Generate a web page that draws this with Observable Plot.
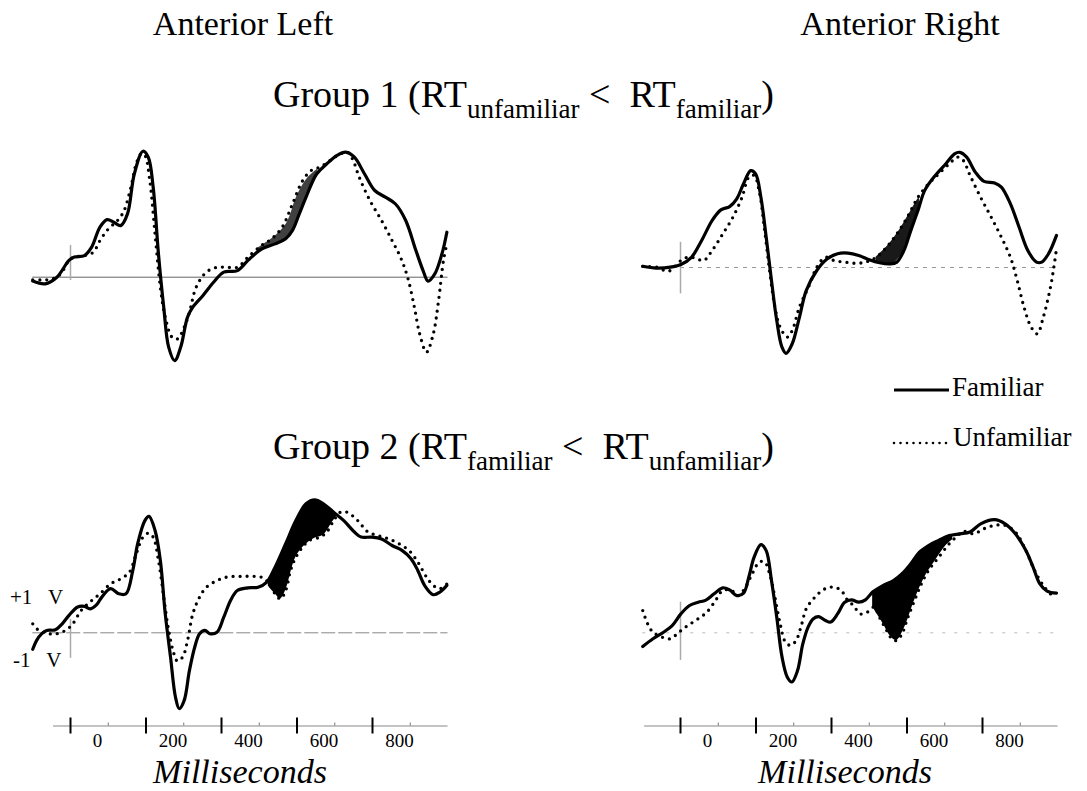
<!DOCTYPE html>
<html><head><meta charset="utf-8">
<script src="https://cdn.jsdelivr.net/npm/d3@7"></script>
<script src="https://cdn.jsdelivr.net/npm/@observablehq/plot@0.6"></script>
<style>
body{margin:0;background:#fff;}
#page{position:relative;width:1087px;height:791px;overflow:hidden;font-family:"Liberation Serif","Times New Roman",serif;color:#000;background:#fff;}
.panel{position:absolute;}
.t{position:absolute;white-space:pre;line-height:1;}
.c{transform:translateX(-50%);}
.sub{font-size:27px;vertical-align:-11px;}
</style></head><body><div id="page"></div>
<script>
// ---------- DATA (time in ms, amplitude in µV) ----------
const majorTicks = [0, 200, 400, 600, 800];
const minorTicks = [100, 300, 500, 700, 900];
const tickLabels = ["0", "200", "400", "600", "800"];

// Group 1, Anterior Left
const g1LeftFamiliar = [[-100,-0.13],[-67,-0.22],[-36,0],[-4,0.56],[10,0.67],[37,0.72],[56,1.0],[78,1.67],[97,1.92],[115,1.83],[133,1.72],[151,2.11],[169,3.44],[192,4.2],[206,4.0],[219,3.0],[233,0.78],[247,-1.0],[260,-2.33],[276,-2.78],[292,-2.33],[310,-1.33],[324,-1.0],[351,-0.61],[379,-0.17],[406,0.17],[442,0.22],[470,0.56],[506,0.94],[542,1.11],[570,1.28],[588,1.56],[606,2.11],[624,2.67],[652,3.44],[679,3.78],[706,4.06],[729,4.17],[752,4.0],[779,3.44],[806,2.89],[834,2.67],[861,2.44],[888,1.89],[915,0.89],[934,0.22],[947,-0.13],[965,0.11],[984,0.78],[997,1.5]];
const g1LeftUnfamiliar = [[-100,-0.09],[-76,-0.09],[-49,-0.06],[-26,0.11],[-4,0.56],[10,0.67],[37,0.72],[60,0.83],[78,1.22],[97,1.56],[115,1.78],[128,1.94],[142,2.22],[160,3.0],[174,3.78],[187,4.11],[197,4.06],[210,3.22],[224,1.44],[238,-0.33],[251,-1.33],[269,-2.0],[283,-2.06],[301,-1.67],[315,-1.17],[333,-0.33],[360,0.17],[388,0.33],[415,0.33],[442,0.33],[470,0.67],[506,1.06],[533,1.28],[561,1.67],[588,2.44],[615,3.22],[638,3.56],[661,3.67],[688,3.89],[715,4.11],[733,4.17],[747,3.94],[765,3.33],[793,2.56],[824,1.89],[852,1.22],[874,0.67],[893,0],[911,-1.0],[925,-1.89],[943,-2.5],[961,-1.89],[975,-0.78],[988,0.56],[997,1.11]];
const g1LeftShade = [[495,0.85,0.95],[509,0.95,1.07],[545,1.12,1.4],[573,1.3,1.8],[600,1.9,2.7],[628,2.75,3.3],[655,3.47,3.6]];

// Group 1, Anterior Right
const g1RightFamiliar = [[-100,0.04],[-64,-0.02],[-27,0.01],[1,0.1],[29,0.34],[56,0.9],[84,1.57],[107,1.92],[130,2.03],[149,2.29],[167,2.79],[186,3.23],[199,3.12],[213,2.34],[227,1.01],[241,-0.43],[255,-1.77],[269,-2.66],[280,-2.86],[296,-2.54],[315,-1.66],[333,-0.77],[361,-0.1],[389,0.29],[416,0.46],[444,0.48],[472,0.4],[500,0.26],[527,0.16],[555,0.12],[573,0.18],[592,0.57],[610,1.23],[629,1.9],[647,2.57],[675,3.07],[703,3.46],[726,3.79],[740,3.84],[758,3.68],[781,3.18],[804,2.87],[832,2.82],[850,2.68],[874,2.12],[897,1.34],[920,0.57],[943,0.18],[957,0.18],[975,0.46],[996,1.07]];
const g1RightUnfamiliar = [[-100,0.04],[-64,0.01],[-31,-0.12],[1,0.23],[19,0.34],[38,0.32],[61,0.23],[84,0.57],[112,1.12],[139,1.68],[163,2.34],[181,3.01],[195,3.07],[209,2.51],[223,1.23],[236,-0.1],[250,-1.32],[264,-1.99],[283,-2.32],[296,-2.1],[315,-1.32],[343,-0.54],[361,0.01],[384,0.34],[407,0.23],[435,0.18],[463,0.14],[490,0.18],[518,0.34],[546,0.68],[573,1.12],[601,1.68],[629,2.34],[657,2.79],[684,3.12],[712,3.46],[735,3.68],[749,3.57],[767,3.07],[795,2.34],[823,1.68],[850,1.01],[874,0.34],[892,-0.43],[910,-1.32],[929,-1.99],[945,-2.21],[961,-1.66],[980,-0.66],[989,0.01],[996,0.62]];
const g1RightShade = [[518,0.2,0.34],[546,0.13,0.68],[564,0.14,0.96],[583,0.38,1.3],[601,0.9,1.68],[620,1.57,2.1],[633,2.0,2.36]];

// Group 2, Anterior Left
const g2LeftFamiliar = [[-100,-0.55],[-90,-0.26],[-76,-0.03],[-63,0.08],[-40,0.1],[-22,0.3],[-4,0.58],[19,0.86],[37,0.88],[52,0.8],[70,0.95],[83,1.19],[106,1.47],[128,1.3],[147,1.3],[165,2.08],[178,2.97],[197,3.74],[208,3.88],[224,3.41],[238,2.41],[251,0.63],[265,-0.81],[278,-2.14],[288,-2.53],[301,-2.26],[315,-1.26],[329,-0.48],[342,-0.03],[356,0.08],[369,-0.03],[388,0.02],[406,0.52],[424,1.08],[442,1.41],[470,1.5],[497,1.52],[520,1.69],[542,2.19],[570,2.97],[597,3.74],[624,4.3],[647,4.43],[670,4.3],[697,4.02],[724,3.74],[752,3.36],[770,3.19],[797,3.19],[824,3.13],[852,2.91],[879,2.74],[902,2.47],[920,2.08],[938,1.58],[961,1.27],[979,1.36],[997,1.58]];
const g2LeftUnfamiliar = [[-100,0.3],[-86,0.1],[-58,-0.03],[-36,-0.03],[-13,0.08],[6,0.3],[28,0.74],[51,1.02],[78,1.3],[106,1.63],[133,1.8],[156,2.02],[174,2.63],[192,3.19],[206,3.32],[219,3.19],[233,2.41],[247,1.19],[260,0.08],[274,-0.7],[283,-0.94],[297,-0.81],[310,-0.26],[324,0.63],[342,1.19],[360,1.52],[388,1.74],[415,1.86],[451,1.88],[488,1.88],[511,1.83],[529,1.58],[542,1.3],[556,1.13],[570,1.41],[583,2.08],[597,2.52],[615,2.86],[633,3.08],[661,3.19],[679,3.36],[697,3.74],[715,4.02],[733,4.02],[761,3.74],[788,3.36],[815,3.24],[843,3.13],[870,2.97],[897,2.74],[920,2.36],[943,1.86],[961,1.58],[979,1.47],[997,1.63]];
const g2LeftShade = [[524,1.55,1.75],[542,1.3,2.19],[556,1.13,2.58],[570,1.41,2.97],[597,2.52,3.74],[624,2.95,4.3],[647,3.15,4.43],[670,3.25,4.3],[692,3.65,4.08],[706,3.9,3.97]];

// Group 2, Anterior Right
const g2RightFamiliar = [[-100,-0.46],[-73,-0.2],[-45,0.02],[-22,0.24],[1,0.63],[24,0.91],[47,1.02],[66,1.08],[89,1.3],[112,1.5],[130,1.43],[149,1.24],[167,1.32],[181,1.86],[195,2.52],[213,2.94],[227,2.74],[241,1.74],[255,0.52],[269,-0.81],[283,-1.48],[295,-1.64],[310,-1.26],[324,-0.37],[338,0.19],[352,0.47],[366,0.54],[384,0.41],[398,0.36],[416,0.63],[435,1.02],[453,1.1],[472,1.02],[490,1.1],[509,1.36],[537,1.58],[564,1.74],[587,1.97],[610,2.3],[633,2.69],[657,2.91],[684,3.08],[712,3.24],[740,3.3],[767,3.36],[795,3.63],[832,3.77],[860,3.63],[887,3.3],[915,2.74],[934,2.19],[952,1.63],[971,1.39],[996,1.32]];
const g2RightUnfamiliar = [[-100,0.74],[-87,0.3],[-73,0.02],[-50,-0.14],[-27,-0.2],[-4,0.02],[19,0.24],[47,0.47],[70,0.69],[93,1.08],[112,1.41],[135,1.41],[153,1.24],[172,1.52],[190,1.97],[209,2.36],[223,2.36],[236,1.97],[250,1.19],[264,0.3],[278,-0.31],[292,-0.42],[306,-0.26],[320,0.24],[333,0.8],[352,1.13],[370,1.36],[389,1.5],[407,1.52],[426,1.41],[440,1.13],[458,0.91],[477,0.63],[495,0.69],[513,0.86],[527,0.52],[546,0.08],[560,-0.2],[572,-0.26],[587,-0.03],[601,0.47],[620,1.08],[638,1.63],[657,2.08],[684,2.52],[712,2.97],[730,3.19],[749,3.38],[777,3.3],[804,3.47],[832,3.58],[860,3.58],[887,3.36],[915,2.74],[938,2.08],[961,1.58],[984,1.27],[996,1.3]];
const g2RightShade = [[509,0.86,1.36],[537,0.3,1.58],[555,-0.1,1.69],[572,-0.26,1.8],[592,0.13,2.03],[620,1.08,2.47],[647,1.85,2.82],[675,2.4,3.03],[703,2.9,3.19],[721,3.1,3.26]];

// stimulus-onset marker extents (µV) per panel
const g1LeftOnset = [-0.11, 1.06];
const g1RightOnset = [-0.88, 0.84];
const g2LeftOnset = [-0.85, 0.45];
const g2RightOnset = [-0.92, 1.02];

// ---------- DRAWING ----------
const PX_PER_UV = 30;
const SERIF = '"Liberation Serif","Times New Roman",serif';
const page = document.getElementById("page");

function drawPanel(cfg) {
  const {left, top, width, height, x0, x1, base, fam, unf, shade, shadeOpacity, onset, zero, axis} = cfg;
  const rows = arr => arr.map(([t, v]) => ({t, v}));
  const marks = [];
  marks.push(Plot.ruleY([{y: 0, a: zero.from, b: 1000}], {y: "y", x1: "a", x2: "b", stroke: zero.color, strokeWidth: 1, strokeDasharray: zero.dash}));
  marks.push(Plot.ruleX([{t: 0, lo: onset[0], hi: onset[1]}], {x: "t", y1: "lo", y2: "hi", stroke: "#aaa", strokeWidth: 1.5}));
  marks.push(Plot.areaY(shade.map(([t, a, b]) => ({t, a, b})), {x: "t", y1: "a", y2: "b", curve: "catmull-rom", fill: "#000", fillOpacity: shadeOpacity}));
  marks.push(Plot.line(rows(unf), {x: "t", y: "v", curve: "catmull-rom", stroke: "#000", strokeWidth: 3.3, strokeDasharray: "0 7", strokeLinecap: "round"}));
  marks.push(Plot.line(rows(fam), {x: "t", y: "v", curve: "catmull-rom", stroke: "#000", strokeWidth: 3.2}));
  let marginBottom = 0;
  if (axis) {
    marginBottom = height - axis.px;
    const level = (base - axis.px) / PX_PER_UV;
    marks.push(Plot.ruleY([{y: level, a: axis.from, b: 1000}], {y: "y", x1: "a", x2: "b", stroke: "#888", strokeWidth: 1.2}));
    marks.push(Plot.tickX(minorTicks, {x: d => d, insetTop: axis.px - 3, insetBottom: 0, stroke: "#777", strokeWidth: 1}));
    marks.push(Plot.tickX(majorTicks, {x: d => d, insetTop: axis.px - 8, insetBottom: -8, stroke: "#000", strokeWidth: 2}));
    marks.push(Plot.text(majorTicks, {x: d => d, text: (d, i) => tickLabels[i], frameAnchor: "bottom", dx: 27, dy: 21, fontSize: 19, fontFamily: SERIF, fill: "#000"}));
  }
  const svg = Plot.plot({
    width, height,
    marginTop: 0, marginLeft: 0, marginRight: 0, marginBottom,
    x: {domain: [-100, 1000], range: [x0, x1], axis: null},
    y: {domain: [-5, 5], range: [base + 5 * PX_PER_UV, base - 5 * PX_PER_UV], axis: null},
    style: {fontFamily: SERIF, background: "transparent", overflow: "visible"},
    marks
  });
  const holder = document.createElement("div");
  holder.className = "panel";
  holder.style.left = left + "px";
  holder.style.top = top + "px";
  holder.appendChild(svg);
  page.appendChild(holder);
}

drawPanel({left: 0, top: 120, width: 540, height: 260, x0: 32.25, x1: 447.5, base: 156.7,
  fam: g1LeftFamiliar, unf: g1LeftUnfamiliar, shade: g1LeftShade, shadeOpacity: 0.75, onset: g1LeftOnset,
  zero: {from: -100, color: "#666", dash: null}});
drawPanel({left: 540, top: 120, width: 547, height: 260, x0: 102.25, x1: 517.5, base: 147,
  fam: g1RightFamiliar, unf: g1RightUnfamiliar, shade: g1RightShade, shadeOpacity: 0.9, onset: g1RightOnset,
  zero: {from: 0, color: "#999", dash: "4 5"}});
drawPanel({left: 0, top: 470, width: 540, height: 321, x0: 32.25, x1: 447.5, base: 162.3,
  fam: g2LeftFamiliar, unf: g2LeftUnfamiliar, shade: g2LeftShade, shadeOpacity: 1, onset: g2LeftOnset,
  zero: {from: -100, color: "#888", dash: "14 3"}, axis: {px: 255.5, from: -45}});
drawPanel({left: 540, top: 470, width: 547, height: 321, x0: 102.25, x1: 517.5, base: 162.3,
  fam: g2RightFamiliar, unf: g2RightUnfamiliar, shade: g2RightShade, shadeOpacity: 1, onset: g2RightOnset,
  zero: {from: -100, color: "#bbb", dash: "3 9"}, axis: {px: 255.5, from: -95}});

// ---------- TEXT (titles, legend, labels) ----------
function addText(html, {x, baseline, size, center = false, italic = false}) {
  const d = document.createElement("div");
  d.className = "t" + (center ? " c" : "");
  d.style.left = x + "px";
  d.style.top = (baseline - 0.8375 * size) + "px";
  d.style.fontSize = size + "px";
  if (italic) d.style.fontStyle = "italic";
  d.innerHTML = html;
  page.appendChild(d);
}
addText("Anterior Left", {x: 243, baseline: 35, size: 34, center: true});
addText("Anterior Right", {x: 900, baseline: 35, size: 34, center: true});
addText('Group 1 (RT<span class="sub">unfamiliar</span> &lt;  RT<span class="sub">familiar</span>)', {x: 273, baseline: 107, size: 38});
addText('Group 2 (RT<span class="sub">familiar</span> &lt;  RT<span class="sub">unfamiliar</span>)', {x: 273, baseline: 459, size: 38});
addText("Familiar", {x: 952, baseline: 397, size: 27});
addText("Unfamiliar", {x: 953, baseline: 447, size: 27});
addText("+1\u00a0\u00a0\u00a0V", {x: 10, baseline: 605, size: 21});
addText("-1\u00a0\u00a0\u00a0V", {x: 13, baseline: 668, size: 21});
addText("Milliseconds", {x: 240, baseline: 783, size: 34, center: true, italic: true});
addText("Milliseconds", {x: 845, baseline: 783, size: 34, center: true, italic: true});

// legend line samples
const ns = "http://www.w3.org/2000/svg";
const leg = document.createElementNS(ns, "svg");
leg.setAttribute("width", 70); leg.setAttribute("height", 70);
leg.style.position = "absolute"; leg.style.left = "885px"; leg.style.top = "380px";
leg.innerHTML = '<line x1="9" x2="64" y1="10" y2="10" stroke="#000" stroke-width="3"/>' +
  '<line x1="9" x2="63" y1="63" y2="63" stroke="#000" stroke-width="2.6" stroke-dasharray="0 6.5" stroke-linecap="round"/>';
page.appendChild(leg);
</script></body></html>
